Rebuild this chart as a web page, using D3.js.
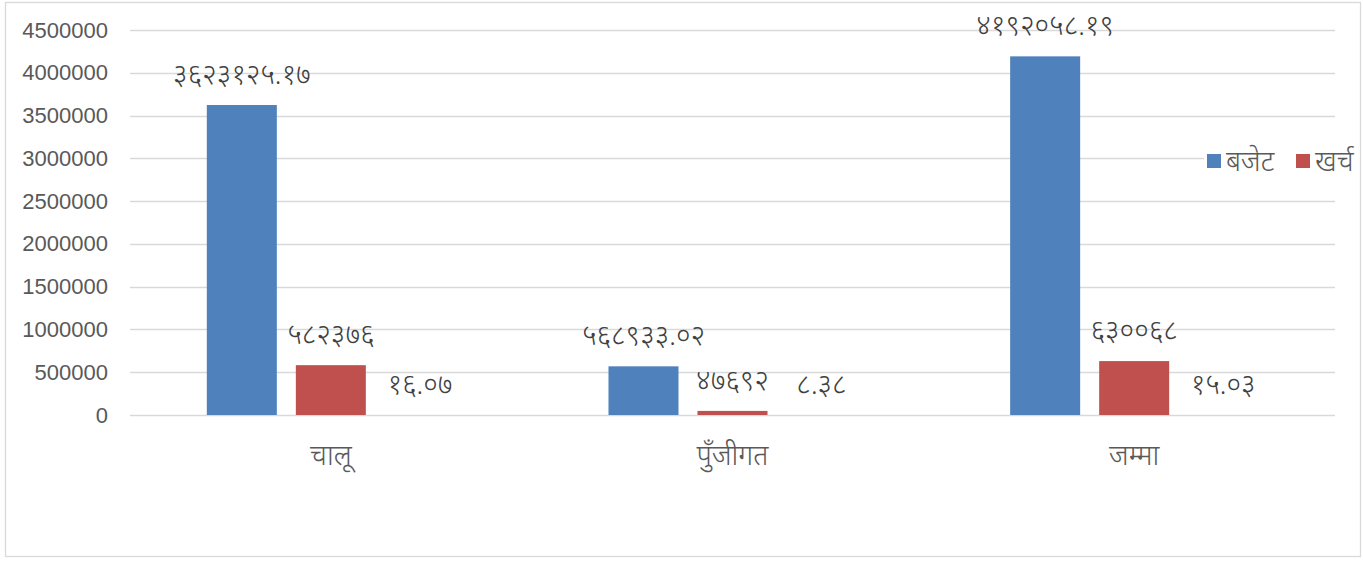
<!DOCTYPE html>
<html>
<head>
<meta charset="utf-8">
<script src="https://cdn.jsdelivr.net/npm/d3@7"></script>
<style>
  html, body { margin: 0; padding: 0; background: #fff; }
  svg { display: block; }
</style>
</head>
<body>
<svg id="chart" width="1363" height="561"></svg>
<script>
const categories = ["चालू", "पुँजीगत", "जम्मा"];
const seriesNames = ["बजेट", "खर्च", "प्रतिशत"];
const budget = [3623125.17, 568933.02, 4192058.19];
const expense = [582376, 47692, 630068];
const percent = [16.07, 8.38, 15.03];
const yTicks = [0, 500000, 1000000, 1500000, 2000000, 2500000, 3000000, 3500000, 4000000, 4500000];
const colors = ["#4F81BD", "#C0504D", "#9BBB59"];
const legendSeries = [0, 1];

const devDigits = "०१२३४५६७८९";
const toDev = v => String(v).replace(/[0-9]/g, d => devDigits[+d]);
const devFont = "'Noto Sans Devanagari', 'Noto Sans', sans-serif";

const svg = d3.select("#chart");
const W = 1363, H = 561;
const margin = { left: 130, right: 28, top: 30, bottom: 146 };

svg.append("rect").attr("x", 5.5).attr("y", 2.5).attr("width", 1355).attr("height", 554)
  .attr("fill", "#fff").attr("stroke", "#d9d9d9").attr("stroke-width", 1.3);

const x0 = d3.scaleBand().domain(categories).range([margin.left, W - margin.right]).paddingInner(0).paddingOuter(0);
const x1 = d3.scaleBand().domain(d3.range(seriesNames.length))
  .range([0, x0.bandwidth()]).paddingInner(0.2135).paddingOuter(0.863);
const y = d3.scaleLinear().domain([0, 4500000]).range([H - margin.bottom, margin.top]);

// gridlines
svg.append("g").selectAll("line").data(yTicks).join("line")
  .attr("x1", margin.left).attr("x2", W - margin.right)
  .attr("y1", d => Math.round(y(d)) + 0.5).attr("y2", d => Math.round(y(d)) + 0.5)
  .attr("stroke", "#d9d9d9").attr("stroke-width", 1.4);

// y axis labels via d3 axis
const yAxis = d3.axisLeft(y).tickValues(yTicks).tickSize(0).tickPadding(0).tickFormat(d3.format("d"));
const gy = svg.append("g").attr("transform", `translate(108,0)`).call(yAxis);
gy.select(".domain").remove();
gy.selectAll("text").attr("fill", "#595959").style("font-family", "'Liberation Sans', Arial, sans-serif").style("font-size", "22px");

// x axis labels
const xAxis = d3.axisBottom(x0).tickSize(0).tickPadding(0);
const gx = svg.append("g").attr("transform", `translate(0,${H - margin.bottom})`).call(xAxis);
gx.select(".domain").remove();
gx.selectAll("text").attr("fill", "#595959").attr("y", 40).attr("dy", "0.35em")
  .style("font-family", devFont).style("font-size", "28px").style("font-weight", 300);

const data = [budget, expense, percent];
const rows = [];
categories.forEach((c, ci) => data.forEach((arr, si) => rows.push({ c, si, v: arr[ci] })));

svg.append("g").selectAll("rect").data(rows).join("rect")
  .attr("x", d => x0(d.c) + x1(d.si))
  .attr("width", x1.bandwidth())
  .attr("y", d => y(d.v))
  .attr("height", d => y(0) - y(d.v))
  .attr("fill", d => colors[d.si]);

svg.append("g").selectAll("text").data(rows).join("text")
  .attr("x", d => x0(d.c) + x1(d.si) + x1.bandwidth() / 2)
  .attr("y", d => y(d.v) - 31)
  .attr("dy", "0.35em")
  .attr("text-anchor", "middle")
  .attr("fill", "#404040")
  .style("font-family", devFont)
  .style("font-size", "28px")
  .style("font-weight", 300)
  .text(d => toDev(d.v));

// legend
const lg = svg.append("g").attr("transform", "translate(1204,161)");
lg.append("rect").attr("x", 0).attr("y", -15).attr("width", 154).attr("height", 30).attr("fill", "#fff");
const items = lg.selectAll("g").data(legendSeries).join("g")
  .attr("transform", (d, i) => `translate(${3 + i * 89},0)`);
items.append("rect").attr("x", 0).attr("y", -7).attr("width", 14).attr("height", 14).attr("fill", d => colors[d]);
items.append("text").attr("x", 19).attr("dy", "0.35em").attr("fill", "#595959")
  .style("font-family", devFont).style("font-size", "28px").style("font-weight", 300)
  .text(d => seriesNames[d]);
</script>
</body>
</html>
